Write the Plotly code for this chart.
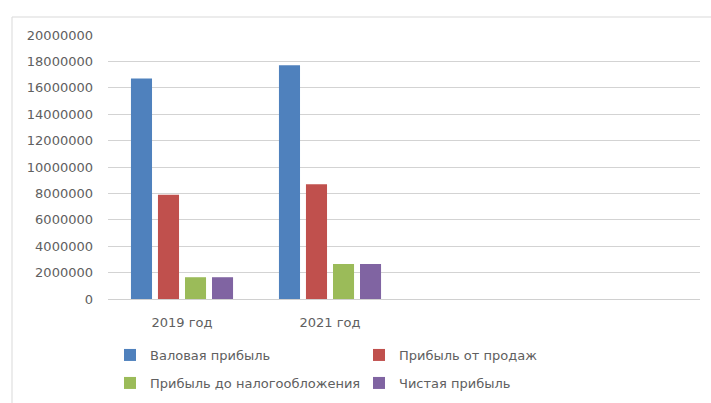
import plotly.graph_objects as go

# Profit indicators by year (rubles)
years = ["2019 год", "2021 год"]
series_names = ["Валовая прибыль", "Прибыль от продаж",
                "Прибыль до налогообложения", "Чистая прибыль"]
gross_profit = [16700000, 17700000]
sales_profit = [7900000, 8700000]
pretax_profit = [1650000, 2650000]
net_profit = [1650000, 2650000]
y_ticks = [0, 2000000, 4000000, 6000000, 8000000, 10000000,
           12000000, 14000000, 16000000, 18000000, 20000000]

colors = ["#4F81BD", "#C0504D", "#9BBB59", "#8064A2"]
values = [gross_profit, sales_profit, pretax_profit, net_profit]
legend_ids = ["legend", "legend", "legend2", "legend2"]

fig = go.Figure()
for name, vals, col, lg in zip(series_names, values, colors, legend_ids):
    fig.add_trace(go.Bar(x=years, y=vals, name=name, marker_color=col,
                         marker_line_width=0, legend=lg))

text_color = "#606060"
y_font = dict(family="DejaVu Sans", size=13, color=text_color)
x_font = dict(family="DejaVu Sans", size=13, color=text_color)
leg_font = dict(family="DejaVu Sans", size=13, color=text_color)

W, H = 711, 403
ml, mr, mt, mb = 108, 11, 35, 104
pw, ph = W - ml - mr, H - mt - mb


def px_x(x):
    return (x - ml) / pw


def px_y(y):
    return (H - mb - y) / ph


fig.update_layout(
    width=W, height=H,
    margin=dict(l=ml, r=mr, t=mt, b=mb, autoexpand=False),
    paper_bgcolor="white", plot_bgcolor="white",
    font=y_font,
    barmode="group", bargap=0.27, bargroupgap=0.22,
    showlegend=True,
    legend=dict(orientation="h", x=px_x(110), y=px_y(355), xanchor="left",
                yanchor="middle", entrywidth=204, entrywidthmode="pixels",
                font=leg_font, bgcolor="rgba(0,0,0,0)"),
    legend2=dict(orientation="h", x=px_x(110), y=px_y(383), xanchor="left",
                 yanchor="middle", entrywidth=204, entrywidthmode="pixels",
                 font=leg_font, bgcolor="rgba(0,0,0,0)"),
    xaxis=dict(type="category", categoryorder="array", categoryarray=years,
               range=[-0.5, 3.5], showgrid=False, showline=True,
               linecolor="#d0d0d0", linewidth=1, ticks="", ticklabelstandoff=11,
               tickfont=x_font, fixedrange=True),
    yaxis=dict(range=[0, 20000000], tickvals=y_ticks, tickformat="d",
               showgrid=True, gridcolor="#d3d3d3", gridwidth=1.3,
               zeroline=False, showline=False, ticks="", ticklabelstandoff=14,
               tickfont=y_font, fixedrange=True),
    shapes=[dict(type="rect", xref="paper", yref="paper",
                 x0=px_x(12), x1=px_x(730), y0=px_y(420), y1=px_y(17),
                 line=dict(color="#d9d9d9", width=1), fillcolor="rgba(0,0,0,0)",
                 layer="below")],
)

fig.write_html("out.html")
